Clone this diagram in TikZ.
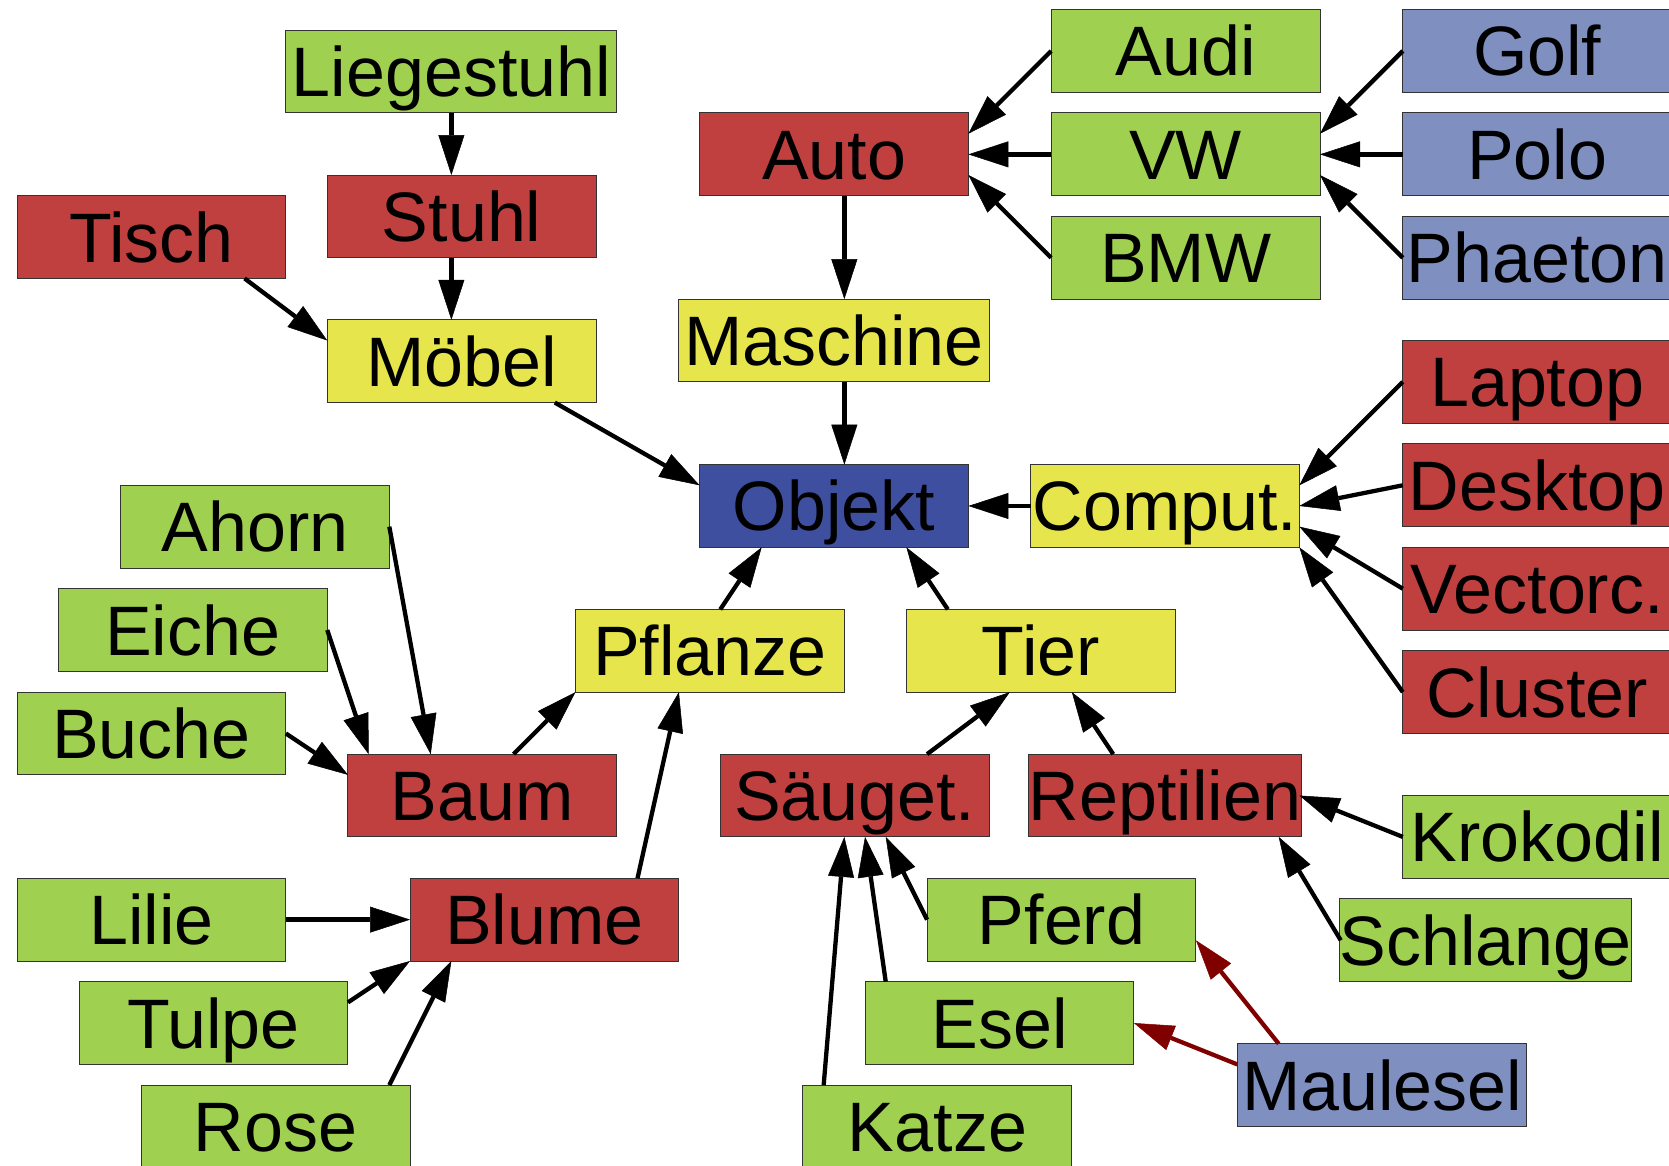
\documentclass[tikz,border=0pt]{standalone}
\usepackage{fontspec}
\setmainfont{Liberation Sans}
\usetikzlibrary{arrows.meta,calc}
\definecolor{cred}{HTML}{C04040}
\definecolor{cgreen}{HTML}{A0D050}
\definecolor{cyellow}{HTML}{E6E64C}
\definecolor{cblue}{HTML}{3F4F9F}
\definecolor{clblue}{HTML}{7F8FBF}
\definecolor{cdark}{HTML}{800000}
\begin{document}
\begin{tikzpicture}[x=20.683pt,y=-20.683pt,
  box/.style={draw=black!80, line width=1pt, inner sep=0pt, outer sep=0pt,
    minimum width=268.9pt, minimum height=82.73pt, text height=50pt, text depth=0pt,
    font=\fontsize{70}{84}\selectfont},
  wsixteen/.style={minimum width=330.9pt},
  wfifteen/.style={minimum width=310.2pt},
  wfourteen/.style={minimum width=289.6pt},
  arr/.style={line width=4.3pt, draw=black, -{Triangle[length=40pt,width=26pt,line width=0.5pt]}},
  darr/.style={arr, draw=cdark, -{Triangle[length=40pt,width=26pt,line width=0.5pt,fill=cdark]}}
]
\useasboundingbox (-0.8234,-0.4632) rectangle (79.871,55.864);
\clip (-0.8234,-0.4632) rectangle (79.871,55.864);
\fill[white] (-0.8234,-0.4632) rectangle (79.871,55.864);

\node[box,fill=cgreen,wsixteen] (liege) at (21,3) {Liegestuhl};
\node[box,fill=cred] (stuhl) at (21.5,10) {Stuhl};
\node[box,fill=cred] (tisch) at (6.5,11) {Tisch};
\node[box,fill=cyellow] (moebel) at (21.5,17) {Möbel};
\node[box,fill=cred] (auto) at (39.5,7) {Auto};
\node[box,fill=cgreen] (audi) at (56.5,2) {Audi};
\node[box,fill=cgreen] (vw) at (56.5,7) {VW};
\node[box,fill=cgreen] (bmw) at (56.5,12) {BMW};
\node[box,fill=clblue] (golf) at (73.5,2) {Golf};
\node[box,fill=clblue] (polo) at (73.5,7) {Polo};
\node[box,fill=clblue] (phaeton) at (73.5,12) {Phaeton};
\node[box,fill=cyellow,wfifteen] (maschine) at (39.5,16) {Maschine};
\node[box,fill=cblue] (objekt) at (39.5,24) {Objekt};
\node[box,fill=cyellow] (comput) at (55.5,24) {Comput.};
\node[box,fill=cred] (laptop) at (73.5,18) {Laptop};
\node[box,fill=cred] (desktop) at (73.5,23) {Desktop};
\node[box,fill=cred] (vector) at (73.5,28) {Vectorc.};
\node[box,fill=cred] (cluster) at (73.5,33) {Cluster};
\node[box,fill=cgreen] (ahorn) at (11.5,25) {Ahorn};
\node[box,fill=cgreen] (eiche) at (8.5,30) {Eiche};
\node[box,fill=cgreen] (buche) at (6.5,35) {Buche};
\node[box,fill=cyellow] (pflanze) at (33.5,31) {Pflanze};
\node[box,fill=cyellow] (tier) at (49.5,31) {Tier};
\node[box,fill=cred] (baum) at (22.5,38) {Baum};
\node[box,fill=cred] (saeuget) at (40.5,38) {Säuget.};
\node[box,fill=cred] (rept) at (55.5,38) {Reptilien};
\node[box,fill=cgreen] (kroko) at (73.5,40) {Krokodil};
\node[box,fill=cgreen,wfourteen] (schlange) at (71,45) {Schlange};
\node[box,fill=cgreen] (pferd) at (50.5,44) {Pferd};
\node[box,fill=cgreen] (esel) at (47.5,49) {Esel};
\node[box,fill=cgreen] (katze) at (44.5,54) {Katze};
\node[box,fill=clblue,wfourteen] (maulesel) at (66,52) {Maulesel};
\node[box,fill=cgreen] (lilie) at (6.5,44) {Lilie};
\node[box,fill=cred] (blume) at (25.5,44) {Blume};
\node[box,fill=cgreen] (tulpe) at (9.5,49) {Tulpe};
\node[box,fill=cgreen] (rose) at (12.5,54) {Rose};

\draw[arr] ($(liege.center)+(0,2)$) -- ($(stuhl.center)+(-0.5,-2)$);
\draw[arr] ($(stuhl.center)+(-0.5,2)$) -- ($(moebel.center)+(-0.5,-2)$);
\draw[arr] ($(tisch.center)+(4.5,2)$) -- ($(moebel.center)+(-6.5,-1)$);
\draw[arr] ($(moebel.center)+(4.5,2)$) -- ($(objekt.center)+(-6.5,-1)$);
\draw[arr] ($(maschine.center)+(0.5,2)$) -- ($(objekt.center)+(0.5,-2)$);
\draw[arr] ($(auto.center)+(0.5,2)$) -- ($(maschine.center)+(0.5,-2)$);
\draw[arr] ($(audi.center)+(-6.5,0)$) -- ($(auto.center)+(6.5,-1)$);
\draw[arr] ($(vw.center)+(-6.5,0)$) -- ($(auto.center)+(6.5,0)$);
\draw[arr] ($(bmw.center)+(-6.5,0)$) -- ($(auto.center)+(6.5,1)$);
\draw[arr] ($(golf.center)+(-6.5,0)$) -- ($(vw.center)+(6.5,-1)$);
\draw[arr] ($(polo.center)+(-6.5,0)$) -- ($(vw.center)+(6.5,0)$);
\draw[arr] ($(phaeton.center)+(-6.5,0)$) -- ($(vw.center)+(6.5,1)$);
\draw[arr] ($(comput.center)+(-6.5,0)$) -- ($(objekt.center)+(6.5,0)$);
\draw[arr] ($(laptop.center)+(-6.5,0)$) -- ($(comput.center)+(6.5,-1)$);
\draw[arr] ($(desktop.center)+(-6.5,0)$) -- ($(comput.center)+(6.5,0)$);
\draw[arr] ($(vector.center)+(-6.5,0)$) -- ($(comput.center)+(6.5,1)$);
\draw[arr] ($(cluster.center)+(-6.5,0)$) -- ($(comput.center)+(6.5,2)$);
\draw[arr] ($(pflanze.center)+(0.5,-2)$) -- ($(objekt.center)+(-3.5,2)$);
\draw[arr] ($(tier.center)+(-4.5,-2)$) -- ($(objekt.center)+(3.5,2)$);
\draw[arr] ($(ahorn.center)+(6.5,0)$) -- ($(baum.center)+(-2.5,-2)$);
\draw[arr] ($(eiche.center)+(6.5,0)$) -- ($(baum.center)+(-5.5,-2)$);
\draw[arr] ($(buche.center)+(6.5,0)$) -- ($(baum.center)+(-6.5,-1)$);
\draw[arr] ($(baum.center)+(1.5,-2)$) -- ($(pflanze.center)+(-6.5,2)$);
\draw[arr] ($(blume.center)+(4.5,-2)$) -- ($(pflanze.center)+(-1.5,2)$);
\draw[arr] ($(lilie.center)+(6.5,0)$) -- ($(blume.center)+(-6.5,0)$);
\draw[arr] ($(tulpe.center)+(6.5,-1)$) -- ($(blume.center)+(-6.5,2)$);
\draw[arr] ($(rose.center)+(5.5,-2)$) -- ($(blume.center)+(-4.5,2)$);
\draw[arr] ($(saeuget.center)+(3.5,-2)$) -- ($(tier.center)+(-1.5,2)$);
\draw[arr] ($(rept.center)+(-2.5,-2)$) -- ($(tier.center)+(1.5,2)$);
\draw[arr] ($(pferd.center)+(-6.5,0)$) -- ($(saeuget.center)+(1.5,2)$);
\draw[arr] ($(esel.center)+(-5.5,-2)$) -- ($(saeuget.center)+(0.5,2)$);
\draw[arr] ($(katze.center)+(-5.5,-2)$) -- ($(saeuget.center)+(-0.5,2)$);
\draw[arr] ($(kroko.center)+(-6.5,0)$) -- ($(rept.center)+(6.5,0)$);
\draw[arr] ($(schlange.center)+(-7,0)$) -- ($(rept.center)+(5.5,2)$);
\draw[darr] ($(maulesel.center)+(-5,-2)$) -- ($(pferd.center)+(6.5,1)$);
\draw[darr] ($(maulesel.center)+(-7,-1)$) -- ($(esel.center)+(6.5,0)$);
\end{tikzpicture}
\end{document}
